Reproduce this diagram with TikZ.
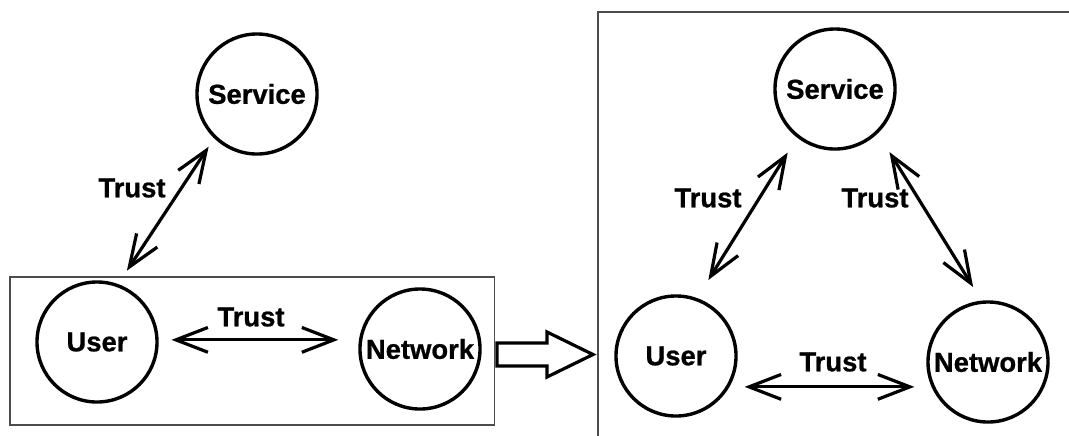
\documentclass[tikz,border=0pt]{standalone}
\usepackage{fontspec}
\setmainfont{Liberation Sans}
\newfontfamily\labelfont{Liberation Sans Bold}[FakeBold=0.8]
\usetikzlibrary{arrows.meta}

\begin{document}
\begin{tikzpicture}[
    x=0.025cm, y=-0.025cm,
    every node/.style={font=\labelfont\fontsize{19.5}{21}\selectfont},
    party/.style={draw, circle, line width=0.085cm, minimum size=3cm, inner sep=0pt},
    frame/.style={draw, black!70, line width=0.8pt, inner sep=0pt},
    trust/.style={line width=0.08cm, {Straight Barb[length=0.8cm, width=0.62cm]}-{Straight Barb[length=0.8cm, width=0.62cm]}},
    tag/.style={inner sep=0pt},
]
\useasboundingbox (0,0) rectangle (1069,435);

% ── Before: user and network joined, service apart ──────────────────────────
\node[frame, minimum width=12.1cm, minimum height=3.7cm] (leftbox) at (252,351) {};
\node[party] (lsvc) at (257,94)  {Service};
\node[party] (lusr) at (97,342)  {User};
\node[party] (lnet) at (420,349) {Network};

\draw[trust, shorten <=0.25cm, shorten >=0.4cm] (lsvc.226) -- (lusr.70);
\draw[trust, shorten <=0.32cm, shorten >=0.5cm] (lusr.2) -- (lusr.2 -| lnet.west);
\node[tag] (lt1) at (132,188) {Trust};
\node[tag] (lt2) at (251,317) {Trust};

% ── Hollow arrow ────────────────────────────────────────────────────────────
\draw[line width=0.08cm, line join=miter]
    (497,343) -- (547,343) -- (547,332) -- (593,354.5) -- (547,377)
    -- (547,366) -- (497,366) -- cycle;

% ── After: three parties, each pair trusting ────────────────────────────────
\node[frame, minimum width=12.05cm, minimum height=10.825cm] (rightbox) at (839,228.5) {};
\node[party] (rsvc) at (835,89)  {Service};
\node[party] (rusr) at (676,356) {User};
\node[party] (rnet) at (988,362) {Network};

\draw[trust, shorten <=0.44cm, shorten >=0.53cm] (rsvc.232) -- (rusr.70);
\draw[trust, shorten <=0.55cm, shorten >=0.4cm]  (rsvc.314) -- (rnet.96);
\draw[trust, shorten <=0.38cm, shorten >=0.3cm]  (rusr.330) -- (rusr.330 -| rnet.west);
\node[tag] (rt1) at (708,198) {Trust};
\node[tag] (rt2) at (875,198) {Trust};
\node[tag] (rt3) at (833,362) {Trust};

\end{tikzpicture}
\end{document}
